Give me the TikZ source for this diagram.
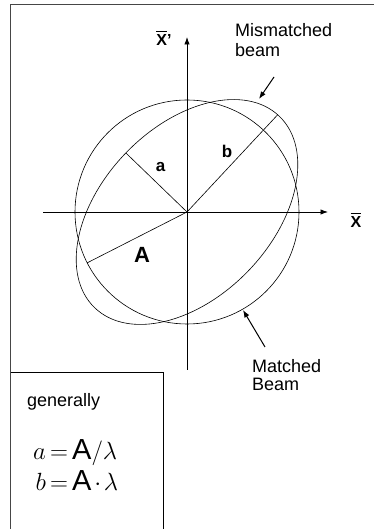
\documentclass[tikz,border=0pt]{standalone}
\usepackage{amsmath}
\usepackage{fontspec}
\setmainfont{Liberation Sans}
\usetikzlibrary{arrows.meta}
\definecolor{framecol}{RGB}{70,70,70}
\definecolor{inkcol}  {RGB}{  0, 0, 0}
\def\Arad{112}
\def\amaj{133}
\def\amin{85}
\def\tilt{46}

\begin{document}
\begin{tikzpicture}[
  % 1pt = 1px of the 374x529 sheet, origin bottom left
  x=1pt,y=1pt,
  >={Latex[length=7.5pt,width=5.5pt]},
  axis/.style={inkcol,line width=0.9pt,->},
  orbit/.style={inkcol,line width=0.6pt},
  semiaxis/.style={inkcol,line width=0.6pt},
  pointer/.style={inkcol,line width=1pt,->},
  axislabel/.style={font=\fontsize{16}{18}\selectfont\bfseries,inner sep=0pt},
  axislen/.style={font=\fontsize{17}{19}\selectfont\bfseries,inner sep=0pt},
  beamlabel/.style={align=left,inner sep=0pt,anchor=west}
]
\useasboundingbox (0,0) rectangle (374,529);

% ---- sheet frame and side box -------------------------------------------
\draw[framecol,line width=1.3pt] (374,524.5) -- (10.5,524.5) -- (10.5,0);
\draw[inkcol,line width=1pt] (10.5,156) -- (163,156) -- (163,0);

% ---- phase space axes ---------------------------------------------------
\coordinate (O) at (187,317);
\coordinate (xtail) at (43,317);
\coordinate (xtip) at (328,317);
\coordinate (ytail) at (187,159);
\coordinate (ytip) at (187,492);
\draw[axis] (xtail) -- (xtip);
\draw[axis] (ytail) -- (ytip);
\node[axislabel] (xlab) at (356,309) {$\overline{\text{X}}$};
\node[axislabel] (ylab) at (164,491) {$\overline{\text{X}}$'};

% ---- matched (circle) and mismatched (ellipse) beam -----------------------
\draw[orbit] (O) circle[radius=\Arad];
\draw[orbit,rotate around={\tilt:(O)}] (O) ellipse[x radius=\amaj,y radius=\amin];

% ---- semi axes --------------------------------------------------------------
\path (O) ++(207:\Arad) coordinate (Aend);
\path (O) ++(\tilt+90:\amin) coordinate (aend);
\path (O) ++(\tilt+1:\amaj) coordinate (bend);
\draw[semiaxis] (O) -- (Aend);
\draw[semiaxis] (O) -- (aend);
\draw[semiaxis] (O) -- (bend);
\node[axislen] (alab) at (160.5,362) {a};
\node[axislen] (blab) at (227,378) {b};
\node[font=\fontsize{22}{24}\selectfont\bfseries,inner sep=0pt] (Alab) at (142,274.5) {A};

% ---- beam labels with pointers -------------------------------------------
\node[beamlabel,font=\fontsize{18}{20}\selectfont] (mism) at (235,488.5)
  {Mismatched\\beam};
\node[beamlabel,font=\fontsize{18}{18}\selectfont] (match) at (252,153.5)
  {Matched\\Beam};
\coordinate (mmtail) at (274,452);
\coordinate (mmtip) at (259,430);
\coordinate (mtail) at (265,182);
\coordinate (mtip) at (243,219);
\draw[pointer] (mmtail) -- (mmtip);
\draw[pointer] (mtail) -- (mtip);

% ---- relations ------------------------------------------------------------
\node[font=\fontsize{18}{20}\selectfont,anchor=base west,inner sep=0pt] (gen)
  at (27,122.5) {generally};
\node[font=\fontsize{29}{26}\selectfont,anchor=west,inner sep=0pt] (rel) at (33,60)
  {$\thickmuskip=3mu\medmuskip=2mu
    \begin{aligned} a &= \text{A}/\lambda\\ b &= \text{A}\cdot\lambda\end{aligned}$};

\end{tikzpicture}
\end{document}
